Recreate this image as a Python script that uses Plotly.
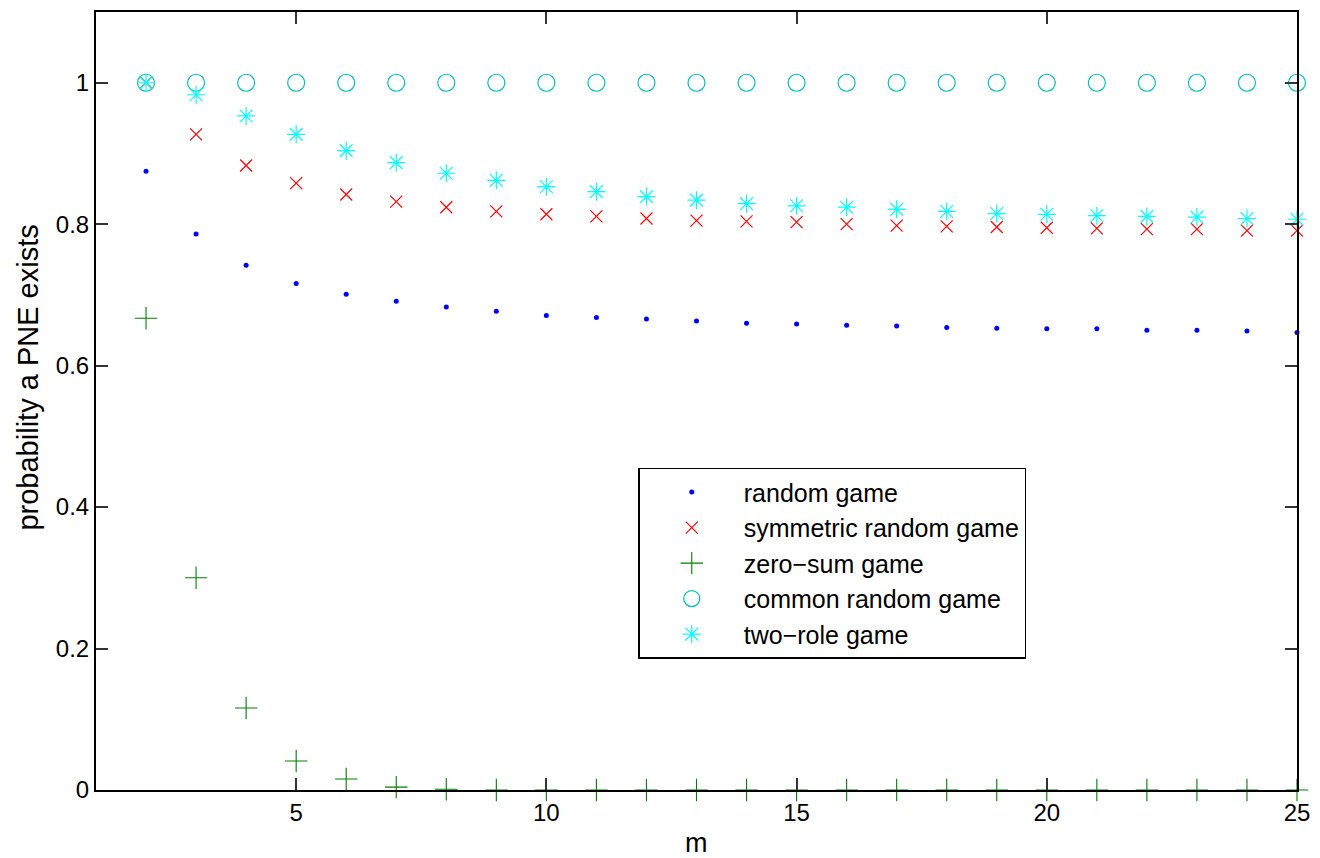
import plotly.graph_objects as go

m = list(range(2, 26))
random_game = [0.875, 0.786, 0.742, 0.716, 0.701, 0.691, 0.683, 0.677, 0.671, 0.668, 0.666, 0.663,
               0.660, 0.659, 0.657, 0.656, 0.654, 0.653, 0.652, 0.652, 0.650, 0.650, 0.649, 0.647]
symmetric_random = [1.0, 0.927, 0.883, 0.858, 0.842, 0.832, 0.824, 0.818, 0.814, 0.811, 0.808, 0.805,
                    0.804, 0.803, 0.800, 0.798, 0.797, 0.796, 0.795, 0.794, 0.793, 0.793, 0.791, 0.791]
zero_sum = [0.667, 0.300, 0.116, 0.041, 0.0155, 0.004, 0.001, 0, 0, 0, 0, 0,
            0, 0, 0, 0, 0, 0, 0, 0, 0, 0, 0, 0]
common_random = [1.0] * 24
two_role = [1.0, 0.983, 0.953, 0.927, 0.904, 0.887, 0.872, 0.862, 0.853, 0.846, 0.839, 0.834,
            0.829, 0.826, 0.824, 0.821, 0.818, 0.815, 0.814, 0.812, 0.811, 0.810, 0.808, 0.807]
x_ticks = [5, 10, 15, 20, 25]
y_ticks = [0, 0.2, 0.4, 0.6, 0.8, 1]
y_tick_labels = ["0", "0.2", "0.4", "0.6", "0.8", "1"]

series = [
    ("random game", random_game, "circle", "#0000FF", 5, 0),
    ("symmetric random game", symmetric_random, "x-thin-open", "#FF0000", 12, 1.2),
    ("zero\u2212sum game", zero_sum, "cross-thin-open", "#008000", 16, 1.1),
    ("common random game", common_random, "circle-open", "#00BFBF", 17, 1.2),
    ("two\u2212role game", two_role, "asterisk-open", "#00FFFF", 15, 1.2),
]

fig = go.Figure()
for name, vals, sym, col, size, lw in series:
    mk = dict(symbol=sym, color=col, size=size)
    if lw:
        mk["line"] = dict(color=col, width=lw)
    fig.add_trace(go.Scatter(x=m, y=vals, mode="markers", name=name, marker=mk, cliponaxis=False))

font = "Liberation Sans, Arial, Helvetica, sans-serif"
axis_common = dict(showline=True, linecolor="black", linewidth=2, mirror="allticks",
                   ticks="inside", ticklen=12, tickwidth=1.5, tickcolor="#333",
                   showgrid=False, zeroline=False,
                   tickfont=dict(family=font, size=24, color="black"))
fig.update_xaxes(range=[1, 25], tickvals=x_ticks, **axis_common)
fig.update_yaxes(range=[0, 1.1], tickvals=y_ticks, ticktext=y_tick_labels, **axis_common)

fig.add_annotation(text="m", xref="paper", yref="paper", x=0.5, y=0,
                   xanchor="center", yanchor="middle", yshift=-52.6, showarrow=False,
                   font=dict(family=font, size=27, color="black"))
fig.add_annotation(text="probability a PNE exists", xref="paper", yref="paper", x=0, y=0.5295,
                   xanchor="center", yanchor="middle", xshift=-67.5, textangle=-90, showarrow=False,
                   font=dict(family=font, size=29, color="black"))

fig.update_layout(
    width=1320, height=858,
    margin=dict(l=96, r=17, t=10, b=68),
    plot_bgcolor="white", paper_bgcolor="white",
    font=dict(family=font, color="black"),
    legend=dict(x=0.4515, y=0.4141, xanchor="left", yanchor="top",
                bordercolor="black", borderwidth=1.5, bgcolor="white",
                font=dict(family=font, size=25, color="black"),
                itemwidth=94),
)
fig.write_html("out.html", config={"displayModeBar": False},
               post_script="document.body.style.margin='0';document.body.style.overflow='hidden';")
